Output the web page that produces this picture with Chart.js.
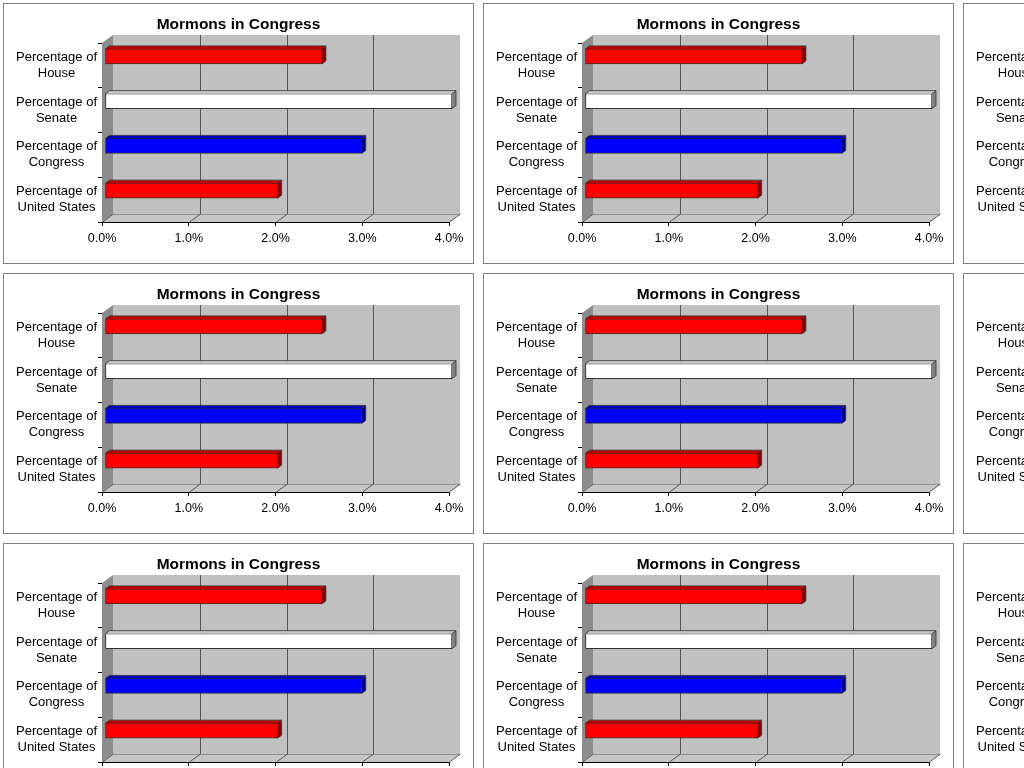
<!DOCTYPE html>
<html lang="en">
<head>
  <meta charset="UTF-8" />
  <title>Mormons in Congress</title>
  <script src="https://cdn.jsdelivr.net/npm/chart.js"></script>
  <style>
    html, body {
      margin: 0;
      padding: 0;
      background: #ffffff;
      overflow: hidden;
      width: 1024px;
      height: 768px;
    }
    .tile {
      position: absolute;
      width: 471px;
      height: 261px;
      box-sizing: border-box;
      border: 1px solid #808080;
      background: #ffffff;
    }
    canvas {
      display: block;
    }
  </style>
</head>
<body>
  <div id="wall"></div>

  <script>
    // chart data
    const title = 'Mormons in Congress';
    const categories = [
      ['Percentage of', 'House'],
      ['Percentage of', 'Senate'],
      ['Percentage of', 'Congress'],
      ['Percentage of', 'United States']
    ];
    const values = [2.5, 4.0, 2.96, 1.99];
    const barColors = ['#ff0000', '#ffffff', '#0000ff', '#ff0000'];
    const barTopColors = ['#c00000', '#c8c8c8', '#0000c0', '#c00000'];
    const barSideColors = ['#800000', '#808080', '#000080', '#800000'];
    const xMin = 0, xMax = 4, xStep = 1;

    // the picture repeats the same chart in a grid
    const cols = 3, rows = 3;

    // 3d look: back wall depth, and where the bars sit
    const DEPTH_X = 11, DEPTH_Y = -8;
    const BAR_DX = 3, BAR_DY = -9;
    const BAR_DEPTH_X = 4, BAR_DEPTH_Y = -3;

    const FONT = 'Arial, "Liberation Sans", sans-serif';

    const fakeDepth = {
      id: 'fakeDepth',
      beforeDatasetsDraw(chart) {
        const ctx = chart.ctx;
        const { left, right, top, bottom } = chart.chartArea;
        const xs = chart.scales.x;
        ctx.save();
        // back wall
        ctx.fillStyle = '#c0c0c0';
        ctx.fillRect(left + DEPTH_X, top + DEPTH_Y, right - left, bottom - top);
        // left wall
        ctx.fillStyle = '#8c8c8c';
        ctx.beginPath();
        ctx.moveTo(left, top);
        ctx.lineTo(left + DEPTH_X, top + DEPTH_Y);
        ctx.lineTo(left + DEPTH_X, bottom + DEPTH_Y);
        ctx.lineTo(left, bottom);
        ctx.closePath();
        ctx.fill();
        // floor
        ctx.fillStyle = '#c6c6c6';
        ctx.beginPath();
        ctx.moveTo(left, bottom);
        ctx.lineTo(left + DEPTH_X, bottom + DEPTH_Y);
        ctx.lineTo(right + DEPTH_X, bottom + DEPTH_Y);
        ctx.lineTo(right, bottom);
        ctx.closePath();
        ctx.fill();
        ctx.strokeStyle = '#909090';
        ctx.lineWidth = 1;
        ctx.beginPath();
        ctx.moveTo(left + DEPTH_X, bottom + DEPTH_Y + 0.5);
        ctx.lineTo(right + DEPTH_X, bottom + DEPTH_Y + 0.5);
        ctx.stroke();
        // gridlines on back wall and floor
        ctx.strokeStyle = '#555555';
        xs.ticks.forEach(t => {
          const px = Math.round(xs.getPixelForValue(t.value)) + 0.5;
          ctx.beginPath();
          if (t.value > xMin && t.value < xMax) {
            ctx.moveTo(px + DEPTH_X, top + DEPTH_Y);
            ctx.lineTo(px + DEPTH_X, bottom + DEPTH_Y);
          }
          ctx.moveTo(px, bottom);
          ctx.lineTo(px + DEPTH_X, bottom + DEPTH_Y);
          ctx.stroke();
        });
        ctx.restore();
        // shift the bars into the box
        ctx.save();
        ctx.translate(BAR_DX, BAR_DY);
      },
      afterDatasetsDraw(chart) {
        const ctx = chart.ctx;
        ctx.restore();
        ctx.save();
        ctx.translate(BAR_DX, BAR_DY);
        chart.getDatasetMeta(0).data.forEach((bar, i) => {
          const x0 = bar.base, x1 = bar.x;
          const y0 = bar.y - bar.height / 2, y1 = bar.y + bar.height / 2;
          // top face
          ctx.fillStyle = barTopColors[i];
          ctx.beginPath();
          ctx.moveTo(x0, y0);
          ctx.lineTo(x0 + BAR_DEPTH_X, y0 + BAR_DEPTH_Y);
          ctx.lineTo(x1 + BAR_DEPTH_X, y0 + BAR_DEPTH_Y);
          ctx.lineTo(x1, y0);
          ctx.closePath();
          ctx.fill();
          // end face
          ctx.fillStyle = barSideColors[i];
          ctx.beginPath();
          ctx.moveTo(x1, y0);
          ctx.lineTo(x1 + BAR_DEPTH_X, y0 + BAR_DEPTH_Y);
          ctx.lineTo(x1 + BAR_DEPTH_X, y1 + BAR_DEPTH_Y);
          ctx.lineTo(x1, y1);
          ctx.closePath();
          ctx.fill();
          ctx.strokeStyle = '#333333';
          ctx.lineWidth = 0.8;
          ctx.beginPath();
          ctx.moveTo(x0, y0);
          ctx.lineTo(x0 + BAR_DEPTH_X, y0 + BAR_DEPTH_Y);
          ctx.lineTo(x1 + BAR_DEPTH_X, y0 + BAR_DEPTH_Y);
          ctx.lineTo(x1 + BAR_DEPTH_X, y1 + BAR_DEPTH_Y);
          ctx.lineTo(x1, y1);
          ctx.moveTo(x1, y0);
          ctx.lineTo(x1 + BAR_DEPTH_X, y0 + BAR_DEPTH_Y);
          ctx.stroke();
        });
        ctx.restore();
      }
    };

    function makeChart(canvas) {
      return new Chart(canvas.getContext('2d'), {
        type: 'bar',
        data: {
          labels: categories,
          datasets: [{
            data: values,
            backgroundColor: barColors,
            borderColor: '#333333',
            borderWidth: 1,
            borderSkipped: false,
            barThickness: 15,
            clip: false
          }]
        },
        options: {
          indexAxis: 'y',
          responsive: false,
          animation: false,
          devicePixelRatio: 1,
          layout: { padding: 0 },
          plugins: {
            legend: { display: false },
            tooltip: { enabled: false },
            title: {
              display: true,
              text: title,
              color: '#000000',
              font: { family: FONT, size: 15.5, weight: 'bold', lineHeight: 1.2 },
              padding: { top: 11, bottom: 9.4 }
            }
          },
          scales: {
            x: {
              min: xMin,
              max: xMax,
              afterFit: s => { s.height = 41; },
              grid: { drawOnChartArea: false, drawTicks: true, tickLength: 4, color: '#000000' },
              border: { display: true, color: '#000000' },
              ticks: {
                stepSize: xStep,
                padding: 5,
                color: '#000000',
                font: { family: FONT, size: 12.5 },
                callback: v => v.toFixed(1) + '%'
              }
            },
            y: {
              afterFit: s => { s.width = 98; },
              grid: { drawOnChartArea: false, drawTicks: true, tickLength: 4, color: '#000000' },
              border: { display: false },
              ticks: {
                crossAlign: 'center',
                padding: 1,
                color: '#000000',
                font: { family: FONT, size: 13, lineHeight: 1.23 }
              }
            },
            // empty strip on the right so the plot ends where the picture's does
            gap: {
              axis: 'y',
              position: 'right',
              afterFit: s => { s.width = 24; },
              grid: { display: false },
              border: { display: false },
              ticks: { display: false }
            }
          }
        },
        plugins: [fakeDepth]
      });
    }

    const wall = document.getElementById('wall');
    for (let r = 0; r < rows; r++) {
      for (let c = 0; c < cols; c++) {
        const tile = document.createElement('div');
        tile.className = 'tile';
        tile.style.left = (3 + c * 480) + 'px';
        tile.style.top = (3 + r * 270) + 'px';
        const canvas = document.createElement('canvas');
        canvas.width = 469;
        canvas.height = 259;
        tile.appendChild(canvas);
        wall.appendChild(tile);
        makeChart(canvas);
      }
    }
  </script>
</body>
</html>
